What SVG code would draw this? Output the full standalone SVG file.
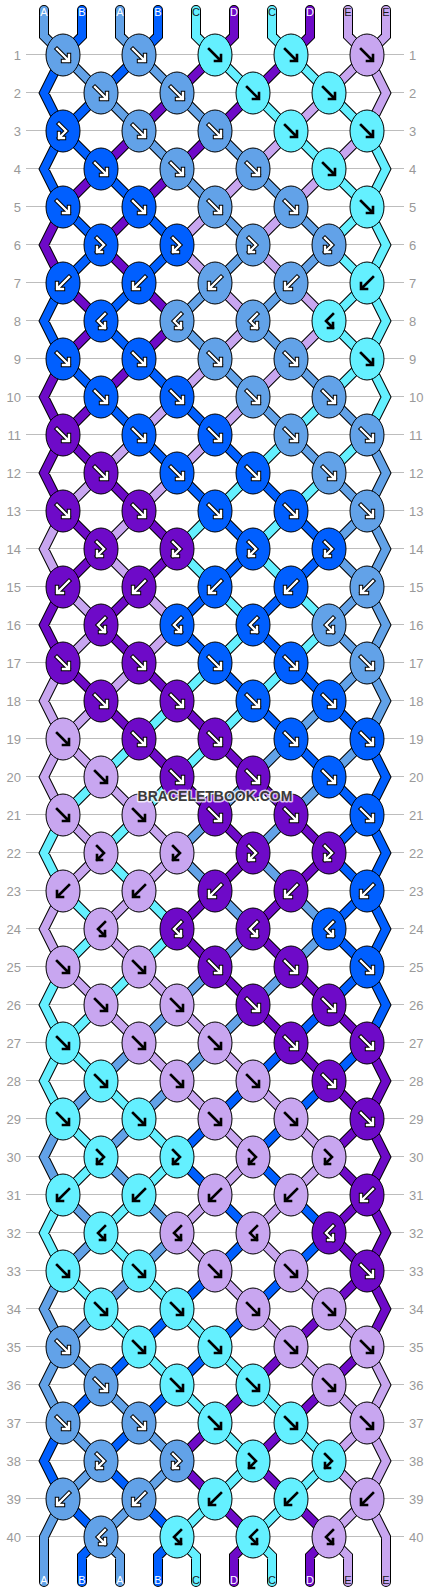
<svg xmlns="http://www.w3.org/2000/svg" xmlns:xlink="http://www.w3.org/1999/xlink" width="430" height="1592" viewBox="0 0 430 1592">
<style>
.fa{fill:#62a2e8}.fb{fill:#005fff}.fc{fill:#64f0ff}.fd{fill:#6e0ac8}.fe{fill:#c8a6f0}
ellipse{stroke:#000;stroke-width:1}
.ao,.aw,.ak{fill:none;stroke-linecap:square;stroke-linejoin:miter}
.ao{stroke:#000;stroke-width:4.4}.aw{stroke:#fff;stroke-width:2.4}.ak{stroke:#000;stroke-width:2.6}
#connectors{fill:none;stroke-linecap:round;stroke-linejoin:miter}
.ol{stroke:#000;stroke-width:10}
.sa{stroke:#62a2e8;stroke-width:8}.sb{stroke:#005fff;stroke-width:8}.sc{stroke:#64f0ff;stroke-width:8}.sd{stroke:#6e0ac8;stroke-width:8}.se{stroke:#c8a6f0;stroke-width:8}
.grid{stroke:#bdbdbd;stroke-width:1;fill:none}
.rn{font-family:"Liberation Sans",Arial,sans-serif;font-size:13px;fill:#999}
.rl{text-anchor:end}
.lb{font-family:"Liberation Sans",Arial,sans-serif;font-size:11px;text-anchor:middle}
.lw{fill:#fff}.lk{fill:#1a1a1a}
.wm{font-family:"Liberation Sans",Arial,sans-serif;font-size:14px;font-weight:bold;text-anchor:middle;fill:#3a3a3a;stroke:#fff;stroke-opacity:0.75;stroke-width:3;paint-order:stroke;stroke-linejoin:round}
</style>
<defs>
<path id="pF" d="M-6,-6L5.5,5.5M0,6H6V0"/>
<path id="pB" d="M6,-6L-5.5,5.5M0,6H-6V0"/>
<path id="pFB" d="M-4,-7L3,0L-4,7M-4,2V7H1"/>
<path id="pBF" d="M4,-7L-3,0L4,7M4,2V7H-1"/>
<g id="wF"><use href="#pF" class="ao"/><use href="#pF" class="aw"/></g>
<g id="wB"><use href="#pB" class="ao"/><use href="#pB" class="aw"/></g>
<g id="wFB"><use href="#pFB" class="ao"/><use href="#pFB" class="aw"/></g>
<g id="wBF"><use href="#pBF" class="ao"/><use href="#pBF" class="aw"/></g>
<g id="aF"><ellipse class="fa" rx="17" ry="21"/><use href="#wF"/></g>
<g id="aB"><ellipse class="fa" rx="17" ry="21"/><use href="#wB"/></g>
<g id="aFB"><ellipse class="fa" rx="17" ry="21"/><use href="#wFB"/></g>
<g id="aBF"><ellipse class="fa" rx="17" ry="21"/><use href="#wBF"/></g>
<g id="bF"><ellipse class="fb" rx="17" ry="21"/><use href="#wF"/></g>
<g id="bB"><ellipse class="fb" rx="17" ry="21"/><use href="#wB"/></g>
<g id="bFB"><ellipse class="fb" rx="17" ry="21"/><use href="#wFB"/></g>
<g id="bBF"><ellipse class="fb" rx="17" ry="21"/><use href="#wBF"/></g>
<g id="dF"><ellipse class="fd" rx="17" ry="21"/><use href="#wF"/></g>
<g id="dB"><ellipse class="fd" rx="17" ry="21"/><use href="#wB"/></g>
<g id="dFB"><ellipse class="fd" rx="17" ry="21"/><use href="#wFB"/></g>
<g id="dBF"><ellipse class="fd" rx="17" ry="21"/><use href="#wBF"/></g>
<g id="cF"><ellipse class="fc" rx="17" ry="21"/><use href="#pF" class="ak"/></g>
<g id="cB"><ellipse class="fc" rx="17" ry="21"/><use href="#pB" class="ak"/></g>
<g id="cFB"><ellipse class="fc" rx="17" ry="21"/><use href="#pFB" class="ak"/></g>
<g id="cBF"><ellipse class="fc" rx="17" ry="21"/><use href="#pBF" class="ak"/></g>
<g id="eF"><ellipse class="fe" rx="17" ry="21"/><use href="#pF" class="ak"/></g>
<g id="eB"><ellipse class="fe" rx="17" ry="21"/><use href="#pB" class="ak"/></g>
<g id="eFB"><ellipse class="fe" rx="17" ry="21"/><use href="#pFB" class="ak"/></g>
<g id="eBF"><ellipse class="fe" rx="17" ry="21"/><use href="#pBF" class="ak"/></g>
<path id="ca" d="M63,55l38,38M139,55l38,38M101,93l38,38M177,93l38,38M139,131l38,38M215,131l38,38M177,169l38,38M253,169l38,38M215,207l38,38M291,207l38,38M253,245l-38,38M329,245l-38,38M215,283l-38,38M291,283l-38,38M177,321l38,38M253,321l38,38M215,359l38,38M291,359l38,38M253,397l38,38M329,397l38,38M291,435l38,38M329,473l38,38M367,511l-38,38M329,549l38,38M367,587l-38,38M329,625l38,38M367,663l-38,38M329,701l-38,38M291,739l-38,38M367,739l-38,38M253,777l-38,38M329,777l-38,38M215,815l-38,38M291,815l-38,38M177,853l38,38M253,853l38,38M215,891l38,38M291,891l38,38M253,929l-38,38M329,929l-38,38M215,967l-38,38M291,967l-38,38M177,1005l-38,38M253,1005l-38,38M139,1043l-38,38M215,1043l-38,38M101,1081l-38,38M177,1081l-38,38M139,1119l-38,38M101,1157l38,38M63,1195l38,38M139,1195l38,38M101,1233l-38,38M177,1233l-38,38M139,1271l-38,38M101,1309l-38,38M63,1347l38,38M101,1385l38,38M63,1423l38,38M139,1423l38,38M101,1461l-38,38M177,1461l-38,38M139,1499l-38,38M44,10V36l19,19M120,10V36l19,19M63,1119l-19,38 19,38M63,1271l-19,38 19,38M63,1347l-19,38 19,38M63,1499l-19,38V1582M367,435l19,38-19,38M367,511l19,38-19,38M367,587l19,38-19,38M367,663l19,38-19,38M101,1537l19,19V1582"/>
<path id="cb" d="M139,55l-38,38M101,93l-38,38M63,131l38,38M101,169l38,38M63,207l38,38M139,207l38,38M101,245l-38,38M177,245l-38,38M139,283l-38,38M101,321l38,38M63,359l38,38M139,359l38,38M101,397l38,38M177,397l38,38M139,435l38,38M215,435l38,38M177,473l38,38M253,473l38,38M215,511l38,38M291,511l38,38M253,549l-38,38M329,549l-38,38M215,587l-38,38M291,587l-38,38M177,625l38,38M253,625l38,38M215,663l38,38M291,663l38,38M253,701l38,38M329,701l38,38M291,739l38,38M329,777l38,38M367,815l-38,38M329,853l38,38M367,891l-38,38M329,929l38,38M367,967l-38,38M329,1005l-38,38M291,1043l-38,38M367,1043l-38,38M253,1081l-38,38M329,1081l-38,38M215,1119l-38,38M291,1119l-38,38M177,1157l38,38M253,1157l38,38M215,1195l38,38M291,1195l38,38M253,1233l-38,38M329,1233l-38,38M215,1271l-38,38M291,1271l-38,38M177,1309l-38,38M253,1309l-38,38M139,1347l-38,38M215,1347l-38,38M101,1385l-38,38M177,1385l-38,38M139,1423l-38,38M101,1461l38,38M63,1499l38,38M139,1499l38,38M82,10V36l-19,19M158,10V36l-19,19M63,55l-19,38 19,38M63,131l-19,38 19,38M63,283l-19,38 19,38M63,1423l-19,38 19,38M367,739l19,38-19,38M367,815l19,38-19,38M367,891l19,38-19,38M367,967l19,38-19,38M101,1537l-19,19V1582M177,1537l-19,19V1582"/>
<path id="cc" d="M215,55l38,38M291,55l38,38M253,93l38,38M329,93l38,38M291,131l38,38M329,169l38,38M367,207l-38,38M329,245l38,38M367,283l-38,38M329,321l38,38M367,359l-38,38M329,397l-38,38M291,435l-38,38M367,435l-38,38M253,473l-38,38M329,473l-38,38M215,511l-38,38M291,511l-38,38M177,549l38,38M253,549l38,38M215,587l38,38M291,587l38,38M253,625l-38,38M329,625l-38,38M215,663l-38,38M291,663l-38,38M177,701l-38,38M253,701l-38,38M139,739l-38,38M215,739l-38,38M101,777l-38,38M177,777l-38,38M139,815l-38,38M101,853l38,38M63,891l38,38M139,891l38,38M101,929l-38,38M177,929l-38,38M139,967l-38,38M101,1005l-38,38M63,1043l38,38M101,1081l38,38M63,1119l38,38M139,1119l38,38M101,1157l-38,38M177,1157l-38,38M139,1195l-38,38M101,1233l38,38M63,1271l38,38M139,1271l38,38M101,1309l38,38M177,1309l38,38M139,1347l38,38M215,1347l38,38M177,1385l38,38M253,1385l38,38M215,1423l38,38M291,1423l38,38M253,1461l-38,38M329,1461l-38,38M215,1499l-38,38M291,1499l-38,38M196,10V36l19,19M272,10V36l19,19M63,815l-19,38 19,38M63,967l-19,38 19,38M63,1043l-19,38 19,38M63,1195l-19,38 19,38M367,131l19,38-19,38M367,207l19,38-19,38M367,283l19,38-19,38M367,359l19,38-19,38M177,1537l19,19V1582M253,1537l19,19V1582"/>
<path id="cd" d="M215,55l-38,38M291,55l-38,38M177,93l-38,38M253,93l-38,38M139,131l-38,38M215,131l-38,38M101,169l-38,38M177,169l-38,38M139,207l-38,38M101,245l38,38M63,283l38,38M139,283l38,38M101,321l-38,38M177,321l-38,38M139,359l-38,38M101,397l-38,38M63,435l38,38M101,473l38,38M63,511l38,38M139,511l38,38M101,549l-38,38M177,549l-38,38M139,587l-38,38M101,625l38,38M63,663l38,38M139,663l38,38M101,701l38,38M177,701l38,38M139,739l38,38M215,739l38,38M177,777l38,38M253,777l38,38M215,815l38,38M291,815l38,38M253,853l-38,38M329,853l-38,38M215,891l-38,38M291,891l-38,38M177,929l38,38M253,929l38,38M215,967l38,38M291,967l38,38M253,1005l38,38M329,1005l38,38M291,1043l38,38M329,1081l38,38M367,1119l-38,38M329,1157l38,38M367,1195l-38,38M329,1233l38,38M367,1271l-38,38M329,1309l-38,38M291,1347l-38,38M367,1347l-38,38M253,1385l-38,38M329,1385l-38,38M215,1423l-38,38M291,1423l-38,38M177,1461l38,38M253,1461l38,38M215,1499l38,38M291,1499l38,38M234,10V36l-19,19M310,10V36l-19,19M63,207l-19,38 19,38M63,359l-19,38 19,38M63,435l-19,38 19,38M63,587l-19,38 19,38M367,1043l19,38-19,38M367,1119l19,38-19,38M367,1195l19,38-19,38M367,1271l19,38-19,38M253,1537l-19,19V1582M329,1537l-19,19V1582"/>
<path id="ce" d="M367,55l-38,38M329,93l-38,38M291,131l-38,38M367,131l-38,38M253,169l-38,38M329,169l-38,38M215,207l-38,38M291,207l-38,38M177,245l38,38M253,245l38,38M215,283l38,38M291,283l38,38M253,321l-38,38M329,321l-38,38M215,359l-38,38M291,359l-38,38M177,397l-38,38M253,397l-38,38M139,435l-38,38M215,435l-38,38M101,473l-38,38M177,473l-38,38M139,511l-38,38M101,549l38,38M63,587l38,38M139,587l38,38M101,625l-38,38M177,625l-38,38M139,663l-38,38M101,701l-38,38M63,739l38,38M101,777l38,38M63,815l38,38M139,815l38,38M101,853l-38,38M177,853l-38,38M139,891l-38,38M101,929l38,38M63,967l38,38M139,967l38,38M101,1005l38,38M177,1005l38,38M139,1043l38,38M215,1043l38,38M177,1081l38,38M253,1081l38,38M215,1119l38,38M291,1119l38,38M253,1157l-38,38M329,1157l-38,38M215,1195l-38,38M291,1195l-38,38M177,1233l38,38M253,1233l38,38M215,1271l38,38M291,1271l38,38M253,1309l38,38M329,1309l38,38M291,1347l38,38M329,1385l38,38M367,1423l-38,38M329,1461l38,38M367,1499l-38,38M348,10V36l19,19M386,10V36l-19,19M63,511l-19,38 19,38M63,663l-19,38 19,38M63,739l-19,38 19,38M63,891l-19,38 19,38M367,55l19,38-19,38M367,1347l19,38-19,38M367,1423l19,38-19,38M367,1499l19,38V1582M329,1537l19,19V1582"/>
</defs>
<rect width="430" height="1592" fill="#fff"/>
<g id="rows">
<path class="grid" transform="translate(0,-0.5)" d="M26,55H404M26,93H404M26,131H404M26,169H404M26,207H404M26,245H404M26,283H404M26,321H404M26,359H404M26,397H404M26,435H404M26,473H404M26,511H404M26,549H404M26,587H404M26,625H404M26,663H404M26,701H404M26,739H404M26,777H404M26,815H404M26,853H404M26,891H404M26,929H404M26,967H404M26,1005H404M26,1043H404M26,1081H404M26,1119H404M26,1157H404M26,1195H404M26,1233H404M26,1271H404M26,1309H404M26,1347H404M26,1385H404M26,1423H404M26,1461H404M26,1499H404M26,1537H404"/>
<text class="rn rl" x="21" y="60">1</text><text class="rn rl" x="21" y="98">2</text><text class="rn rl" x="21" y="136">3</text><text class="rn rl" x="21" y="174">4</text><text class="rn rl" x="21" y="212">5</text><text class="rn rl" x="21" y="250">6</text><text class="rn rl" x="21" y="288">7</text><text class="rn rl" x="21" y="326">8</text><text class="rn rl" x="21" y="364">9</text><text class="rn rl" x="21" y="402">10</text><text class="rn rl" x="21" y="440">11</text><text class="rn rl" x="21" y="478">12</text><text class="rn rl" x="21" y="516">13</text><text class="rn rl" x="21" y="554">14</text><text class="rn rl" x="21" y="592">15</text><text class="rn rl" x="21" y="630">16</text><text class="rn rl" x="21" y="668">17</text><text class="rn rl" x="21" y="706">18</text><text class="rn rl" x="21" y="744">19</text><text class="rn rl" x="21" y="782">20</text><text class="rn rl" x="21" y="820">21</text><text class="rn rl" x="21" y="858">22</text><text class="rn rl" x="21" y="896">23</text><text class="rn rl" x="21" y="934">24</text><text class="rn rl" x="21" y="972">25</text><text class="rn rl" x="21" y="1010">26</text><text class="rn rl" x="21" y="1048">27</text><text class="rn rl" x="21" y="1086">28</text><text class="rn rl" x="21" y="1124">29</text><text class="rn rl" x="21" y="1162">30</text><text class="rn rl" x="21" y="1200">31</text><text class="rn rl" x="21" y="1238">32</text><text class="rn rl" x="21" y="1276">33</text><text class="rn rl" x="21" y="1314">34</text><text class="rn rl" x="21" y="1352">35</text><text class="rn rl" x="21" y="1390">36</text><text class="rn rl" x="21" y="1428">37</text><text class="rn rl" x="21" y="1466">38</text><text class="rn rl" x="21" y="1504">39</text><text class="rn rl" x="21" y="1542">40</text>
<text class="rn" x="409" y="60">1</text><text class="rn" x="409" y="98">2</text><text class="rn" x="409" y="136">3</text><text class="rn" x="409" y="174">4</text><text class="rn" x="409" y="212">5</text><text class="rn" x="409" y="250">6</text><text class="rn" x="409" y="288">7</text><text class="rn" x="409" y="326">8</text><text class="rn" x="409" y="364">9</text><text class="rn" x="409" y="402">10</text><text class="rn" x="409" y="440">11</text><text class="rn" x="409" y="478">12</text><text class="rn" x="409" y="516">13</text><text class="rn" x="409" y="554">14</text><text class="rn" x="409" y="592">15</text><text class="rn" x="409" y="630">16</text><text class="rn" x="409" y="668">17</text><text class="rn" x="409" y="706">18</text><text class="rn" x="409" y="744">19</text><text class="rn" x="409" y="782">20</text><text class="rn" x="409" y="820">21</text><text class="rn" x="409" y="858">22</text><text class="rn" x="409" y="896">23</text><text class="rn" x="409" y="934">24</text><text class="rn" x="409" y="972">25</text><text class="rn" x="409" y="1010">26</text><text class="rn" x="409" y="1048">27</text><text class="rn" x="409" y="1086">28</text><text class="rn" x="409" y="1124">29</text><text class="rn" x="409" y="1162">30</text><text class="rn" x="409" y="1200">31</text><text class="rn" x="409" y="1238">32</text><text class="rn" x="409" y="1276">33</text><text class="rn" x="409" y="1314">34</text><text class="rn" x="409" y="1352">35</text><text class="rn" x="409" y="1390">36</text><text class="rn" x="409" y="1428">37</text><text class="rn" x="409" y="1466">38</text><text class="rn" x="409" y="1504">39</text><text class="rn" x="409" y="1542">40</text>
</g>
<g id="connectors">
<g class="ol"><use href="#ca"/><use href="#cb"/><use href="#cc"/><use href="#cd"/><use href="#ce"/></g>
<use href="#ca" class="sa"/><use href="#cb" class="sb"/><use href="#cc" class="sc"/><use href="#cd" class="sd"/><use href="#ce" class="se"/>
</g>
<g id="strand-labels">
<text class="lb lw" x="44" y="16">A</text><text class="lb lw" x="82" y="16">B</text><text class="lb lw" x="120" y="16">A</text><text class="lb lw" x="158" y="16">B</text><text class="lb lk" x="196" y="16">C</text><text class="lb lw" x="234" y="16">D</text><text class="lb lk" x="272" y="16">C</text><text class="lb lw" x="310" y="16">D</text><text class="lb lk" x="348" y="16">E</text><text class="lb lk" x="386" y="16">E</text>
<text class="lb lw" x="44" y="1584">A</text><text class="lb lw" x="82" y="1584">B</text><text class="lb lw" x="120" y="1584">A</text><text class="lb lw" x="158" y="1584">B</text><text class="lb lk" x="196" y="1584">C</text><text class="lb lw" x="234" y="1584">D</text><text class="lb lk" x="272" y="1584">C</text><text class="lb lw" x="310" y="1584">D</text><text class="lb lk" x="348" y="1584">E</text><text class="lb lk" x="386" y="1584">E</text>
</g>
<g id="knots">
<g id="k1-1"><use href="#aF" x="63" y="55"/></g><g id="k1-2"><use href="#aF" x="139" y="55"/></g><g id="k1-3"><use href="#cF" x="215" y="55"/></g><g id="k1-4"><use href="#cF" x="291" y="55"/></g><g id="k1-5"><use href="#eF" x="367" y="55"/></g>
<g id="k2-1"><use href="#aF" x="101" y="93"/></g><g id="k2-2"><use href="#aF" x="177" y="93"/></g><g id="k2-3"><use href="#cF" x="253" y="93"/></g><g id="k2-4"><use href="#cF" x="329" y="93"/></g>
<g id="k3-1"><use href="#bFB" x="63" y="131"/></g><g id="k3-2"><use href="#aF" x="139" y="131"/></g><g id="k3-3"><use href="#aF" x="215" y="131"/></g><g id="k3-4"><use href="#cF" x="291" y="131"/></g><g id="k3-5"><use href="#cF" x="367" y="131"/></g>
<g id="k4-1"><use href="#bF" x="101" y="169"/></g><g id="k4-2"><use href="#aF" x="177" y="169"/></g><g id="k4-3"><use href="#aF" x="253" y="169"/></g><g id="k4-4"><use href="#cF" x="329" y="169"/></g>
<g id="k5-1"><use href="#bF" x="63" y="207"/></g><g id="k5-2"><use href="#bF" x="139" y="207"/></g><g id="k5-3"><use href="#aF" x="215" y="207"/></g><g id="k5-4"><use href="#aF" x="291" y="207"/></g><g id="k5-5"><use href="#cF" x="367" y="207"/></g>
<g id="k6-1"><use href="#bFB" x="101" y="245"/></g><g id="k6-2"><use href="#bFB" x="177" y="245"/></g><g id="k6-3"><use href="#aFB" x="253" y="245"/></g><g id="k6-4"><use href="#aFB" x="329" y="245"/></g>
<g id="k7-1"><use href="#bB" x="63" y="283"/></g><g id="k7-2"><use href="#bB" x="139" y="283"/></g><g id="k7-3"><use href="#aB" x="215" y="283"/></g><g id="k7-4"><use href="#aB" x="291" y="283"/></g><g id="k7-5"><use href="#cB" x="367" y="283"/></g>
<g id="k8-1"><use href="#bBF" x="101" y="321"/></g><g id="k8-2"><use href="#aBF" x="177" y="321"/></g><g id="k8-3"><use href="#aBF" x="253" y="321"/></g><g id="k8-4"><use href="#cBF" x="329" y="321"/></g>
<g id="k9-1"><use href="#bF" x="63" y="359"/></g><g id="k9-2"><use href="#bF" x="139" y="359"/></g><g id="k9-3"><use href="#aF" x="215" y="359"/></g><g id="k9-4"><use href="#aF" x="291" y="359"/></g><g id="k9-5"><use href="#cF" x="367" y="359"/></g>
<g id="k10-1"><use href="#bF" x="101" y="397"/></g><g id="k10-2"><use href="#bF" x="177" y="397"/></g><g id="k10-3"><use href="#aF" x="253" y="397"/></g><g id="k10-4"><use href="#aF" x="329" y="397"/></g>
<g id="k11-1"><use href="#dF" x="63" y="435"/></g><g id="k11-2"><use href="#bF" x="139" y="435"/></g><g id="k11-3"><use href="#bF" x="215" y="435"/></g><g id="k11-4"><use href="#aF" x="291" y="435"/></g><g id="k11-5"><use href="#aF" x="367" y="435"/></g>
<g id="k12-1"><use href="#dF" x="101" y="473"/></g><g id="k12-2"><use href="#bF" x="177" y="473"/></g><g id="k12-3"><use href="#bF" x="253" y="473"/></g><g id="k12-4"><use href="#aF" x="329" y="473"/></g>
<g id="k13-1"><use href="#dF" x="63" y="511"/></g><g id="k13-2"><use href="#dF" x="139" y="511"/></g><g id="k13-3"><use href="#bF" x="215" y="511"/></g><g id="k13-4"><use href="#bF" x="291" y="511"/></g><g id="k13-5"><use href="#aF" x="367" y="511"/></g>
<g id="k14-1"><use href="#dFB" x="101" y="549"/></g><g id="k14-2"><use href="#dFB" x="177" y="549"/></g><g id="k14-3"><use href="#bFB" x="253" y="549"/></g><g id="k14-4"><use href="#bFB" x="329" y="549"/></g>
<g id="k15-1"><use href="#dB" x="63" y="587"/></g><g id="k15-2"><use href="#dB" x="139" y="587"/></g><g id="k15-3"><use href="#bB" x="215" y="587"/></g><g id="k15-4"><use href="#bB" x="291" y="587"/></g><g id="k15-5"><use href="#aB" x="367" y="587"/></g>
<g id="k16-1"><use href="#dBF" x="101" y="625"/></g><g id="k16-2"><use href="#bBF" x="177" y="625"/></g><g id="k16-3"><use href="#bBF" x="253" y="625"/></g><g id="k16-4"><use href="#aBF" x="329" y="625"/></g>
<g id="k17-1"><use href="#dF" x="63" y="663"/></g><g id="k17-2"><use href="#dF" x="139" y="663"/></g><g id="k17-3"><use href="#bF" x="215" y="663"/></g><g id="k17-4"><use href="#bF" x="291" y="663"/></g><g id="k17-5"><use href="#aF" x="367" y="663"/></g>
<g id="k18-1"><use href="#dF" x="101" y="701"/></g><g id="k18-2"><use href="#dF" x="177" y="701"/></g><g id="k18-3"><use href="#bF" x="253" y="701"/></g><g id="k18-4"><use href="#bF" x="329" y="701"/></g>
<g id="k19-1"><use href="#eF" x="63" y="739"/></g><g id="k19-2"><use href="#dF" x="139" y="739"/></g><g id="k19-3"><use href="#dF" x="215" y="739"/></g><g id="k19-4"><use href="#bF" x="291" y="739"/></g><g id="k19-5"><use href="#bF" x="367" y="739"/></g>
<g id="k20-1"><use href="#eF" x="101" y="777"/></g><g id="k20-2"><use href="#dF" x="177" y="777"/></g><g id="k20-3"><use href="#dF" x="253" y="777"/></g><g id="k20-4"><use href="#bF" x="329" y="777"/></g>
<g id="k21-1"><use href="#eF" x="63" y="815"/></g><g id="k21-2"><use href="#eF" x="139" y="815"/></g><g id="k21-3"><use href="#dF" x="215" y="815"/></g><g id="k21-4"><use href="#dF" x="291" y="815"/></g><g id="k21-5"><use href="#bF" x="367" y="815"/></g>
<g id="k22-1"><use href="#eFB" x="101" y="853"/></g><g id="k22-2"><use href="#eFB" x="177" y="853"/></g><g id="k22-3"><use href="#dFB" x="253" y="853"/></g><g id="k22-4"><use href="#dFB" x="329" y="853"/></g>
<g id="k23-1"><use href="#eB" x="63" y="891"/></g><g id="k23-2"><use href="#eB" x="139" y="891"/></g><g id="k23-3"><use href="#dB" x="215" y="891"/></g><g id="k23-4"><use href="#dB" x="291" y="891"/></g><g id="k23-5"><use href="#bB" x="367" y="891"/></g>
<g id="k24-1"><use href="#eBF" x="101" y="929"/></g><g id="k24-2"><use href="#dBF" x="177" y="929"/></g><g id="k24-3"><use href="#dBF" x="253" y="929"/></g><g id="k24-4"><use href="#bBF" x="329" y="929"/></g>
<g id="k25-1"><use href="#eF" x="63" y="967"/></g><g id="k25-2"><use href="#eF" x="139" y="967"/></g><g id="k25-3"><use href="#dF" x="215" y="967"/></g><g id="k25-4"><use href="#dF" x="291" y="967"/></g><g id="k25-5"><use href="#bF" x="367" y="967"/></g>
<g id="k26-1"><use href="#eF" x="101" y="1005"/></g><g id="k26-2"><use href="#eF" x="177" y="1005"/></g><g id="k26-3"><use href="#dF" x="253" y="1005"/></g><g id="k26-4"><use href="#dF" x="329" y="1005"/></g>
<g id="k27-1"><use href="#cF" x="63" y="1043"/></g><g id="k27-2"><use href="#eF" x="139" y="1043"/></g><g id="k27-3"><use href="#eF" x="215" y="1043"/></g><g id="k27-4"><use href="#dF" x="291" y="1043"/></g><g id="k27-5"><use href="#dF" x="367" y="1043"/></g>
<g id="k28-1"><use href="#cF" x="101" y="1081"/></g><g id="k28-2"><use href="#eF" x="177" y="1081"/></g><g id="k28-3"><use href="#eF" x="253" y="1081"/></g><g id="k28-4"><use href="#dF" x="329" y="1081"/></g>
<g id="k29-1"><use href="#cF" x="63" y="1119"/></g><g id="k29-2"><use href="#cF" x="139" y="1119"/></g><g id="k29-3"><use href="#eF" x="215" y="1119"/></g><g id="k29-4"><use href="#eF" x="291" y="1119"/></g><g id="k29-5"><use href="#dF" x="367" y="1119"/></g>
<g id="k30-1"><use href="#cFB" x="101" y="1157"/></g><g id="k30-2"><use href="#cFB" x="177" y="1157"/></g><g id="k30-3"><use href="#eFB" x="253" y="1157"/></g><g id="k30-4"><use href="#eFB" x="329" y="1157"/></g>
<g id="k31-1"><use href="#cB" x="63" y="1195"/></g><g id="k31-2"><use href="#cB" x="139" y="1195"/></g><g id="k31-3"><use href="#eB" x="215" y="1195"/></g><g id="k31-4"><use href="#eB" x="291" y="1195"/></g><g id="k31-5"><use href="#dB" x="367" y="1195"/></g>
<g id="k32-1"><use href="#cBF" x="101" y="1233"/></g><g id="k32-2"><use href="#eBF" x="177" y="1233"/></g><g id="k32-3"><use href="#eBF" x="253" y="1233"/></g><g id="k32-4"><use href="#dBF" x="329" y="1233"/></g>
<g id="k33-1"><use href="#cF" x="63" y="1271"/></g><g id="k33-2"><use href="#cF" x="139" y="1271"/></g><g id="k33-3"><use href="#eF" x="215" y="1271"/></g><g id="k33-4"><use href="#eF" x="291" y="1271"/></g><g id="k33-5"><use href="#dF" x="367" y="1271"/></g>
<g id="k34-1"><use href="#cF" x="101" y="1309"/></g><g id="k34-2"><use href="#cF" x="177" y="1309"/></g><g id="k34-3"><use href="#eF" x="253" y="1309"/></g><g id="k34-4"><use href="#eF" x="329" y="1309"/></g>
<g id="k35-1"><use href="#aF" x="63" y="1347"/></g><g id="k35-2"><use href="#cF" x="139" y="1347"/></g><g id="k35-3"><use href="#cF" x="215" y="1347"/></g><g id="k35-4"><use href="#eF" x="291" y="1347"/></g><g id="k35-5"><use href="#eF" x="367" y="1347"/></g>
<g id="k36-1"><use href="#aF" x="101" y="1385"/></g><g id="k36-2"><use href="#cF" x="177" y="1385"/></g><g id="k36-3"><use href="#cF" x="253" y="1385"/></g><g id="k36-4"><use href="#eF" x="329" y="1385"/></g>
<g id="k37-1"><use href="#aF" x="63" y="1423"/></g><g id="k37-2"><use href="#aF" x="139" y="1423"/></g><g id="k37-3"><use href="#cF" x="215" y="1423"/></g><g id="k37-4"><use href="#cF" x="291" y="1423"/></g><g id="k37-5"><use href="#eF" x="367" y="1423"/></g>
<g id="k38-1"><use href="#aFB" x="101" y="1461"/></g><g id="k38-2"><use href="#aFB" x="177" y="1461"/></g><g id="k38-3"><use href="#cFB" x="253" y="1461"/></g><g id="k38-4"><use href="#cFB" x="329" y="1461"/></g>
<g id="k39-1"><use href="#aB" x="63" y="1499"/></g><g id="k39-2"><use href="#aB" x="139" y="1499"/></g><g id="k39-3"><use href="#cB" x="215" y="1499"/></g><g id="k39-4"><use href="#cB" x="291" y="1499"/></g><g id="k39-5"><use href="#eB" x="367" y="1499"/></g>
<g id="k40-1"><use href="#aBF" x="101" y="1537"/></g><g id="k40-2"><use href="#cBF" x="177" y="1537"/></g><g id="k40-3"><use href="#cBF" x="253" y="1537"/></g><g id="k40-4"><use href="#eBF" x="329" y="1537"/></g>
</g>
<g id="watermark"><text class="wm" x="215" y="801">BRACELETBOOK.COM</text></g>
</svg>
